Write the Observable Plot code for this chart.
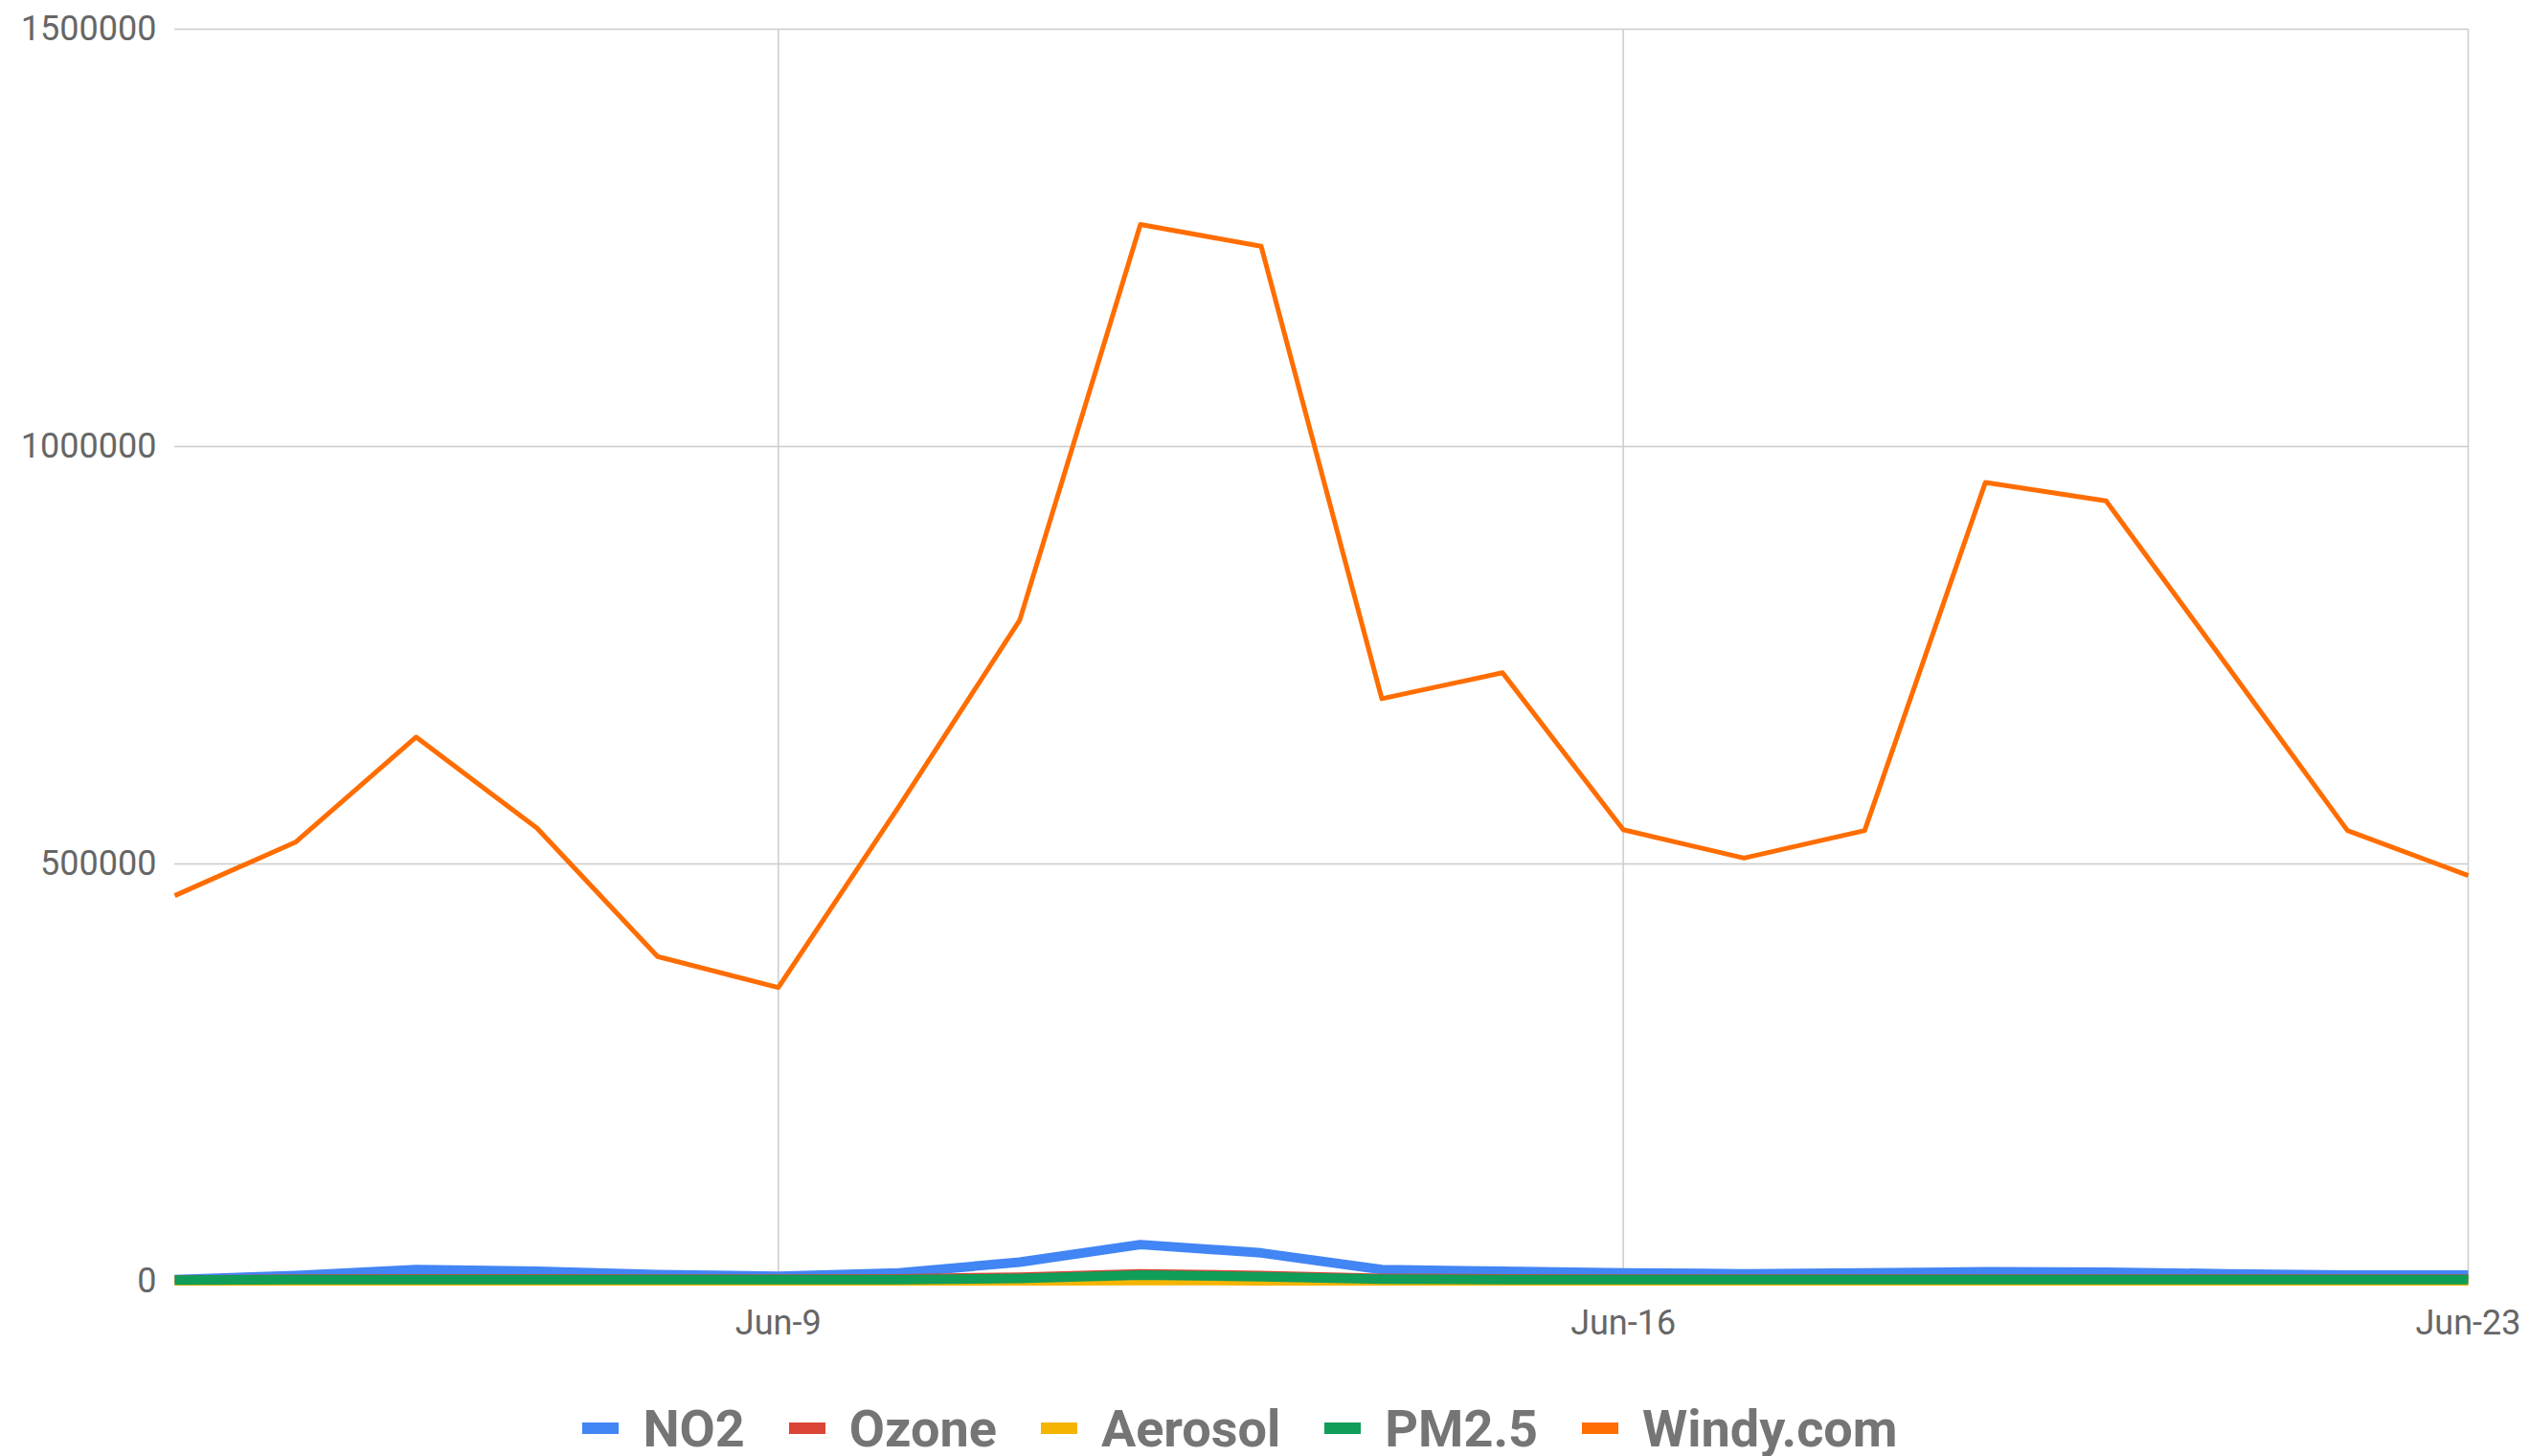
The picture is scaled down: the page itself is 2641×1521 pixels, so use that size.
<!DOCTYPE html>
<html>
<head>
<meta charset="utf-8">
<script src="https://cdn.jsdelivr.net/npm/d3@7"></script>
<script src="https://cdn.jsdelivr.net/npm/@observablehq/plot@0.6"></script>
<style>
  html, body { margin: 0; padding: 0; background: #fff; }
  #wrap { position: relative; width: 2641px; height: 1521px; }
  #legend {
    position: absolute; left: 0; top: 1462px; width: 2590px; height: 60px;
    display: flex; justify-content: center; align-items: center;
    font-family: Roboto, sans-serif; font-weight: 700; font-size: 54px; color: #757575;
  }
  .item { display: flex; align-items: center; margin-right: 46px; }
  .item:last-child { margin-right: 0; }
  .sw { width: 38px; height: 12px; margin-right: 25px; }
</style>
</head>
<body>
<div id="wrap"><div id="chart"></div><div id="legend"></div></div>
<script>
// ---- data ----
const dates = ["2020-06-04","2020-06-05","2020-06-06","2020-06-07","2020-06-08","2020-06-09","2020-06-10",
  "2020-06-11","2020-06-12","2020-06-13","2020-06-14","2020-06-15","2020-06-16","2020-06-17","2020-06-18",
  "2020-06-19","2020-06-20","2020-06-21","2020-06-22","2020-06-23"];
const no2     = [2000, 7000, 14000, 12000, 8000, 6000, 10000, 23000, 44000, 34000, 14000, 12000, 10000, 9000, 10000, 11500, 11000, 9000, 7500, 7500];
const ozone   = [1500, 2500, 3000, 3000, 2500, 2500, 3000, 5000, 9000, 7000, 3500, 3000, 2500, 2500, 2500, 2500, 2500, 2500, 2500, 2500];
const aerosol = [500, 500, 500, 500, 500, 500, 500, 600, 800, 700, 500, 500, 500, 500, 500, 500, 500, 500, 500, 500];
const pm25    = [1500, 2000, 2000, 2000, 2000, 2000, 2000, 3500, 7500, 5500, 2500, 2000, 2000, 2000, 2000, 2000, 2000, 2000, 2000, 2000];
const windy   = [462000, 526000, 652000, 543000, 389000, 352000, 569000, 792000, 1266000, 1240000, 698000, 729000,
  541000, 507000, 540000, 957000, 935000, 738000, 540000, 486000];
const seriesNames = ["NO2", "Ozone", "Aerosol", "PM2.5", "Windy.com"];
const seriesColors = ["#4285F4", "#DB4437", "#F4B400", "#0F9D58", "#FF6D00"];
const seriesWidths = [10, 10, 10, 10, 5];
const xTicks = ["2020-06-09", "2020-06-16", "2020-06-23"];
const yTicks = [0, 500000, 1000000, 1500000];
const yGrid = [500000, 1000000, 1500000];

const values = [no2, ozone, aerosol, pm25, windy];
const parse = d3.utcParse("%Y-%m-%d");
const rows = [];
seriesNames.forEach((name, s) => {
  dates.forEach((d, i) => rows.push({series: name, date: parse(d), value: values[s][i]}));
});

const marks = [
  Plot.ruleY(yGrid, {stroke: "#cccccc", strokeWidth: 1.5}),
  Plot.ruleX(xTicks.map(parse), {stroke: "#cccccc", strokeWidth: 1.5}),
  Plot.ruleY([0], {stroke: "#333333", strokeWidth: 2})
];
seriesNames.forEach((name, s) => {
  marks.push(Plot.line(rows.filter(r => r.series === name), {
    x: "date", y: "value", stroke: seriesColors[s], strokeWidth: seriesWidths[s],
    strokeLinejoin: "round", strokeLinecap: "butt"
  }));
});

const chart = Plot.plot({
  width: 2641,
  height: 1440,
  marginTop: 30,
  marginBottom: 102,
  marginLeft: 182,
  marginRight: 64,
  style: {fontFamily: "Roboto, sans-serif", fontSize: "36px", color: "#666666", background: "#ffffff", overflow: "visible"},
  x: {
    type: "utc",
    domain: [parse(dates[0]), parse(dates[dates.length - 1])],
    ticks: xTicks.map(parse),
    tickFormat: d => "Jun-" + d.getUTCDate(),
    tickSize: 0, tickPadding: 30, label: null
  },
  y: {
    domain: [0, 1500000],
    ticks: yTicks,
    tickFormat: d => String(d),
    tickSize: 0, tickPadding: 19, label: null
  },
  marks
});
document.getElementById("chart").appendChild(chart);

const legend = document.getElementById("legend");
seriesNames.forEach((name, s) => {
  const item = document.createElement("div");
  item.className = "item";
  const sw = document.createElement("div");
  sw.className = "sw";
  sw.style.background = seriesColors[s];
  const t = document.createElement("span");
  t.textContent = name;
  item.appendChild(sw); item.appendChild(t);
  legend.appendChild(item);
});
</script>
</body>
</html>
